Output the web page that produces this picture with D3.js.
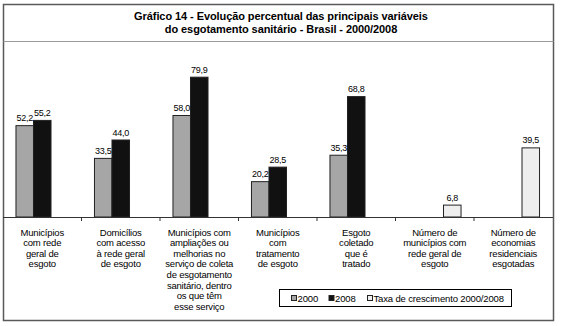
<!DOCTYPE html>
<html><head><meta charset="utf-8">
<script src="https://cdn.jsdelivr.net/npm/d3@7"></script>
<style>
html,body{margin:0;padding:0;background:#fff;}
svg{display:block;font-family:"Liberation Sans",Arial,sans-serif;}
</style></head>
<body>
<svg id="c" width="562" height="326"></svg>
<script>
const titleLines = ["Gráfico 14 - Evolução percentual das principais variáveis",
                    "do esgotamento sanitário - Brasil - 2000/2008"];
const categories = [
  "Municípios\ncom rede\ngeral de\nesgoto",
  "Domicílios\ncom acesso\nà rede  geral\nde esgoto",
  "Municípios com\nampliações ou\nmelhorias no\nserviço de coleta\nde esgotamento\nsanitário, dentro\nos que têm\nesse serviço",
  "Municípios\ncom\ntratamento\nde esgoto",
  "Esgoto\ncoletado\nque é\ntratado",
  "Número de\nmunicípios com\nrede geral de\nesgoto",
  "Número de\neconomias\nresidenciais\nesgotadas"
];
const seriesNames = ["2000", "2008", "Taxa de crescimento 2000/2008"];
const values2000 = [52.2, 33.5, 58.0, 20.2, 35.3, null, null];
const values2008 = [55.2, 44.0, 79.9, 28.5, 68.8, null, null];
const valuesTaxa = [null, null, null, null, null, 6.8, 39.5];
const yDomain = [0, 90];

const seriesValues = [values2000, values2008, valuesTaxa];
const fills = ["#a6a6a6", "#111111", "#eeeeee"];

const svg = d3.select("#c");

// frame
svg.append("rect").attr("x", 3.5).attr("y", 4.5).attr("width", 550).attr("height", 316)
  .attr("fill", "none").attr("stroke", "#5a5a5a").attr("stroke-width", 1.5);
svg.append("line").attr("x1", 3.5).attr("x2", 553.5).attr("y1", 41.5).attr("y2", 41.5)
  .attr("stroke", "#9a9a9a").attr("stroke-width", 1.2);

// title
svg.append("text").attr("x", 281).attr("y", 19.5).attr("text-anchor", "middle")
  .attr("font-size", 11).attr("font-weight", "bold").attr("letter-spacing", -0.08).attr("fill", "#000")
  .selectAll("tspan").data(titleLines).join("tspan")
  .attr("x", 281).attr("dy", (d, i) => i ? 13.5 : 0).text(d => d);

const x0 = d3.scaleBand().domain(categories).range([3, 552.5]).padding(0);
const x1 = d3.scaleBand().domain(seriesNames).range([0, x0.bandwidth()])
  .paddingInner(0).paddingOuter(0.74);
const y = d3.scaleLinear().domain(yDomain).range([217, 59.5]);

const fmt = v => d3.format(".1f")(v).replace(".", ",");

const rows = [];
categories.forEach((c, i) => {
  seriesNames.forEach((s, j) => {
    const v = seriesValues[j][i];
    if (v != null) rows.push({c, s, v, j});
  });
});

const g = svg.append("g");
g.selectAll("rect.bar").data(rows).join("rect").attr("class", "bar")
  .attr("x", d => x0(d.c) + x1(d.s))
  .attr("y", d => y(d.v))
  .attr("width", x1.bandwidth())
  .attr("height", d => y(0) - y(d.v))
  .attr("fill", d => fills[d.j])
  .attr("stroke", "#222").attr("stroke-width", 1);

g.selectAll("text.val").data(rows).join("text").attr("class", "val")
  .attr("x", d => x0(d.c) + x1(d.s) + x1.bandwidth() / 2)
  .attr("y", d => y(d.v) - 4.5)
  .attr("text-anchor", "middle").attr("font-size", 9).attr("letter-spacing", -0.3).attr("fill", "#000")
  .text(d => fmt(d.v));

// axis line and ticks
svg.append("line").attr("x1", 3).attr("x2", 553).attr("y1", y(0) + 0.5).attr("y2", y(0) + 0.5)
  .attr("stroke", "#333").attr("stroke-width", 1.2);
svg.selectAll("line.tick").data(categories.slice(1)).join("line").attr("class", "tick")
  .attr("x1", d => x0(d)).attr("x2", d => x0(d))
  .attr("y1", y(0)).attr("y2", y(0) + 4)
  .attr("stroke", "#333").attr("stroke-width", 1);

// category labels
svg.selectAll("text.cat").data(categories).join("text").attr("class", "cat")
  .attr("text-anchor", "middle").attr("font-size", 9.5).attr("letter-spacing", -0.2).attr("fill", "#000")
  .attr("y", 235.5)
  .each(function(d) {
    const cx = x0(d) + x0.bandwidth() / 2;
    d3.select(this).selectAll("tspan").data(d.split("\n")).join("tspan")
      .attr("x", cx).attr("dy", (t, i) => i ? 10.6 : 0).text(t => t);
  });

// legend
const lg = svg.append("g");
lg.append("rect").attr("x", 279.5).attr("y", 289.5).attr("width", 232).attr("height", 17)
  .attr("fill", "#fff").attr("stroke", "#000").attr("stroke-width", 1);
const legX = [291, 328.5, 367];
seriesNames.forEach((s, j) => {
  lg.append("rect").attr("x", legX[j] + 0.5).attr("y", 295.5).attr("width", 5).attr("height", 5)
    .attr("fill", fills[j]).attr("stroke", "#222").attr("stroke-width", 1);
  lg.append("text").attr("x", legX[j] + 6.5).attr("y", 301.8).attr("font-size", 9.5)
    .attr("letter-spacing", -0.15).attr("fill", "#000").text(s);
});
</script>
</body></html>
